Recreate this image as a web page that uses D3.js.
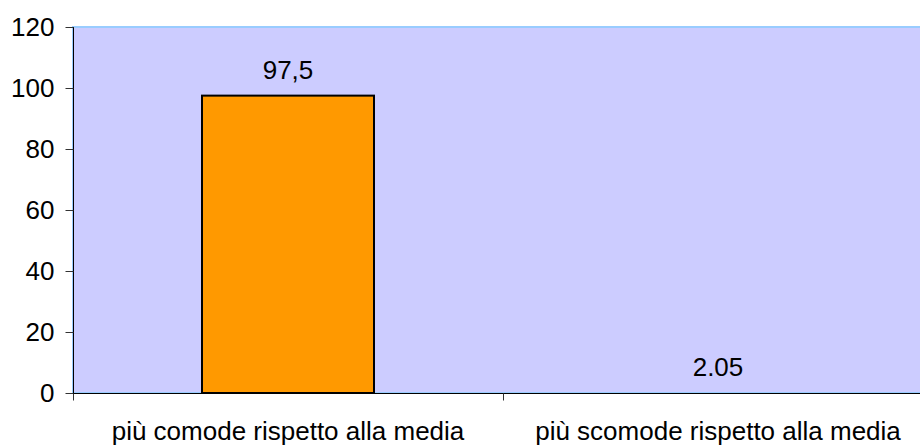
<!DOCTYPE html>
<html>
<head>
<meta charset="utf-8">
<script src="https://cdn.jsdelivr.net/npm/d3@7/dist/d3.min.js"></script>
<style>
  html, body { margin: 0; padding: 0; background: #fff; }
  svg { display: block; font-family: "Liberation Sans", Arial, sans-serif; }
</style>
</head>
<body>
<svg id="chart" width="920" height="445"></svg>
<script>
// Chart data
const categories = ["più comode rispetto alla media", "più scomode rispetto alla media"];
const values = [97.5, 2.05];
const valueLabels = ["97,5", "2.05"];
const barVisible = [true, false];
const yTicks = [0, 20, 40, 60, 80, 100, 120];

const svg = d3.select("#chart");
const W = 920, H = 445;
const plotLeft = 73, plotTop = 27, plotBottom = 393, plotRight = 933;

const x = d3.scaleBand()
  .domain(categories)
  .range([plotLeft, plotRight])
  .paddingInner(0.6)
  .paddingOuter(0.3);

const y = d3.scaleLinear().domain([0, 120]).range([plotBottom, plotTop]);

// Plot area
svg.append("rect")
  .attr("x", plotLeft).attr("y", plotTop)
  .attr("width", plotRight - plotLeft).attr("height", plotBottom - plotTop)
  .attr("fill", "#ccccff")
  .attr("stroke", "#99ccff")
  .attr("stroke-width", 2);

// Bars (the second point has no fill and no border)
svg.append("g").selectAll("rect")
  .data(values)
  .join("rect")
  .attr("x", (d, i) => x(categories[i]))
  .attr("y", d => y(d))
  .attr("width", x.bandwidth())
  .attr("height", d => y(0) - y(d))
  .attr("fill", "#ff9900")
  .attr("fill-opacity", (d, i) => barVisible[i] ? 1 : 0)
  .attr("stroke", "#000")
  .attr("stroke-opacity", (d, i) => barVisible[i] ? 1 : 0)
  .attr("stroke-width", 2);

// Value labels: above the bar top, or above the baseline for unfilled bars
svg.append("g").selectAll("text")
  .data(values)
  .join("text")
  .attr("x", (d, i) => x(categories[i]) + x.bandwidth() / 2)
  .attr("y", (d, i) => (barVisible[i] ? y(d) : y(0)) - 17)
  .attr("text-anchor", "middle")
  .attr("font-size", 26)
  .attr("fill", "#000")
  .text((d, i) => valueLabels[i]);

// Y axis
const yAxis = d3.axisLeft(y)
  .tickValues(yTicks)
  .tickSize(8)
  .tickPadding(11)
  .tickFormat(d3.format("d"));
const gy = svg.append("g")
  .attr("transform", `translate(${plotLeft + 0.5},0)`)
  .call(yAxis);
gy.select(".domain").attr("d", `M0,${plotTop}V${plotBottom + 7}`).attr("stroke", "#000");
gy.selectAll(".tick line").attr("stroke", "#333");
gy.selectAll(".tick text").attr("font-size", 26).attr("fill", "#000")
  .attr("font-family", "Liberation Sans, Arial, sans-serif");

// X axis
const gx = svg.append("g")
  .attr("transform", `translate(0,${plotBottom + 0.5})`);
gx.append("line")
  .attr("x1", plotLeft).attr("x2", W)
  .attr("stroke", "#000");
const boundaries = [plotLeft, x.range()[0] + x.step(), plotRight];
gx.selectAll("line.tk")
  .data(boundaries)
  .join("line")
  .attr("class", "tk")
  .attr("x1", d => Math.round(d) + 0.5).attr("x2", d => Math.round(d) + 0.5)
  .attr("y1", 0).attr("y2", 7)
  .attr("stroke", "#333");
gx.selectAll("text")
  .data(categories)
  .join("text")
  .attr("x", d => x(d) + x.bandwidth() / 2)
  .attr("y", 46)
  .attr("text-anchor", "middle")
  .attr("font-size", 26)
  .attr("fill", "#000")
  .text(d => d);
</script>
</body>
</html>
